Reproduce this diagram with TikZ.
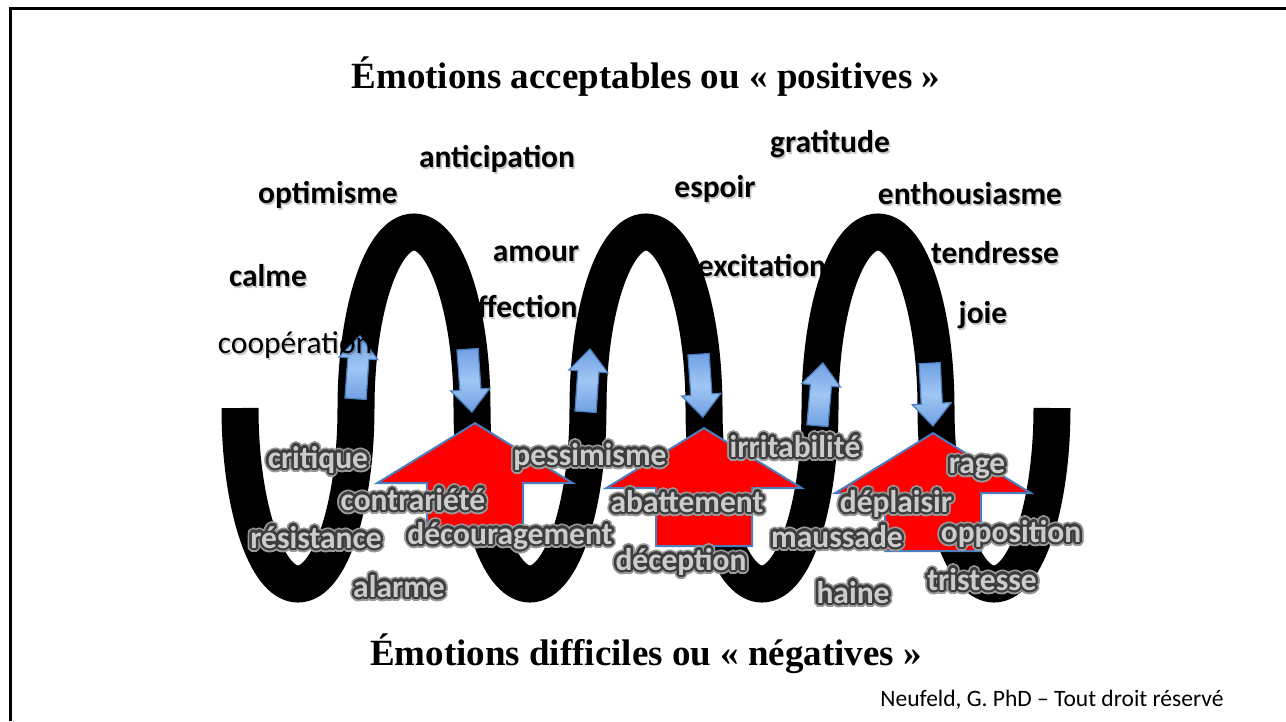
\documentclass[tikz,border=0pt]{standalone}
\usepackage{fontspec}
\setmainfont{Liberation Serif}
\newfontfamily\calibri{Carlito}
\usepackage[copies]{contour}
\contournumber{20}
\usetikzlibrary{shapes.arrows,positioning}
\definecolor{lblgray}{RGB}{204,204,204}
\definecolor{arrowblue}{RGB}{112,160,226}
\definecolor{lightblue}{RGB}{160,198,244}
\definecolor{edgeblue}{RGB}{74,126,190}
\definecolor{coilred}{RGB}{255,0,0}
\newcommand\lblfont{\calibri\bfseries\fontsize{31.5pt}{34pt}\selectfont}
% soft shadow under the black words (see-through, so it vanishes on the coil)
\newcommand\dropsh[1]{\rlap{\kern1.5pt\raisebox{-2pt}{\pgfsetfillopacity{0.22}#1\pgfsetfillopacity{1}}}#1}
% dark glow behind the grey words
\newcommand\glowtxt[1]{%
  \rlap{\contourlength{4.2pt}\contour{black!40}{#1}}%
  \contourlength{2.4pt}\contour{black!76}{#1}}

\begin{document}
\begin{tikzpicture}[x=1pt,y=-1pt,
  poslbl/.style={font=\lblfont,anchor=base,inner sep=0pt},
  neglbl/.style={font=\lblfont,text=lblgray,anchor=base,inner sep=0pt},
  coil/.style={line width=37pt,black},
  blueup/.style={single arrow,draw=edgeblue,top color=arrowblue,bottom color=arrowblue,
    middle color=lightblue,line width=1.2pt,
    minimum height=63pt,inner xsep=0pt,inner ysep=10pt,
    single arrow head extend=9pt,single arrow tip angle=82,anchor=tip},
  redup/.style={single arrow,draw=edgeblue,fill=coilred,line width=2pt,
    minimum height=118pt,inner xsep=0pt,inner ysep=47pt,
    single arrow head extend=50pt,single arrow tip angle=117,anchor=tip,rotate=90},
  titlelbl/.style={font=\bfseries\fontsize{37pt}{40pt}\selectfont,anchor=base,inner sep=0pt}]
  \useasboundingbox (0,0) rectangle (1286,721);
  % titles
  \node[titlelbl] (ttop) at (646,88) {Émotions acceptables ou «~positives~»};
  \node[titlelbl] (tbot) at (646,665) {Émotions difficiles ou «~négatives~»};
  \node[font=\calibri\fontsize{23.5pt}{26pt}\selectfont,anchor=base,inner sep=0pt]
    (credit) at (1052,706) {Neufeld, G. PhD – Tout droit réservé};
  % the coil
  \draw[coil] (240,408)
    arc[start angle=180,end angle=0,x radius=58,y radius=176]
    arc[start angle=180,end angle=360,x radius=58,y radius=176]
    arc[start angle=180,end angle=0,x radius=58,y radius=176]
    arc[start angle=180,end angle=360,x radius=58,y radius=176]
    arc[start angle=180,end angle=0,x radius=58,y radius=176]
    arc[start angle=180,end angle=360,x radius=58,y radius=176]
    arc[start angle=180,end angle=0,x radius=58,y radius=176];
  % small blue arrows on the legs
  \node[blueup,rotate=86]  (bu1) at (360,335) {};
  \node[blueup,rotate=-86] (bd1) at (472,413) {};
  \node[blueup,rotate=86]  (bu2) at (590,348) {};
  \node[blueup,rotate=-86] (bd2) at (703,418) {};
  \node[blueup,rotate=85]  (bu3) at (823,362) {};
  \node[blueup,rotate=-87] (bd3) at (933,427) {};
  % positive emotions
  \node[poslbl] (poptim)  at (328,203) {\dropsh{optimisme}};
  \node[poslbl] (panti)   at (497,167) {\dropsh{anticipation}};
  \node[poslbl] (pcalme)  at (268,286) {\dropsh{calme}};
  \node[poslbl] (pamour)  at (536,261) {\dropsh{amour}};
  \node[poslbl] (paffect) at (520,317) {\dropsh{affection}};
  \node[poslbl,font=\calibri\fontsize{31.5pt}{34pt}\selectfont]
    (pcoop) at (295,353) {\dropsh{coopération}};
  \node[poslbl] (pespoir) at (715,197) {\dropsh{espoir}};
  \node[poslbl] (pgrat)   at (830,152) {\dropsh{gratitude}};
  \node[poslbl] (penth)   at (970,204) {\dropsh{enthousiasme}};
  \node[poslbl] (pexcit)  at (762,276) {\dropsh{excitation}};
  \node[poslbl] (ptendr)  at (995,263) {\dropsh{tendresse}};
  \node[poslbl] (pjoie)   at (983,323) {\dropsh{joie}};
  % big red arrows
  \node[redup] (ru1) at (475,422) {};
  \node[redup] (ru2) at (704,427) {};
  \node[redup] (ru3) at (933,432) {};
  % negative emotions (in front)
  \node[neglbl] (ncrit)   at (318,468) {\glowtxt{critique}};
  \node[neglbl] (ncontr)  at (413,510) {\glowtxt{contrariété}};
  \node[neglbl] (nresist) at (316,548) {\glowtxt{résistance}};
  \node[neglbl] (nalarm)  at (399,597) {\glowtxt{alarme}};
  \node[neglbl] (ndecour) at (510,544) {\glowtxt{découragement}};
  \node[neglbl] (npessim) at (590,465) {\glowtxt{pessimisme}};
  \node[neglbl] (nirrit)  at (795,457) {\glowtxt{irritabilité}};
  \node[neglbl] (nabatt)  at (687,512) {\glowtxt{abattement}};
  \node[neglbl] (ndecep)  at (681,570) {\glowtxt{déception}};
  \node[neglbl] (nmauss)  at (837,547) {\glowtxt{maussade}};
  \node[neglbl] (nhaine)  at (853,603) {\glowtxt{haine}};
  \node[neglbl] (nrage)   at (977,473) {\glowtxt{rage}};
  \node[neglbl] (ndeplai) at (896,512) {\glowtxt{déplaisir}};
  \node[neglbl] (noppos)  at (1011,542) {\glowtxt{opposition}};
  \node[neglbl] (ntrist)  at (982,590) {\glowtxt{tristesse}};
  % frame
  \draw[line width=3pt] (10.5,721) -- (10.5,8.5) -- (1286,8.5);
\end{tikzpicture}
\end{document}
